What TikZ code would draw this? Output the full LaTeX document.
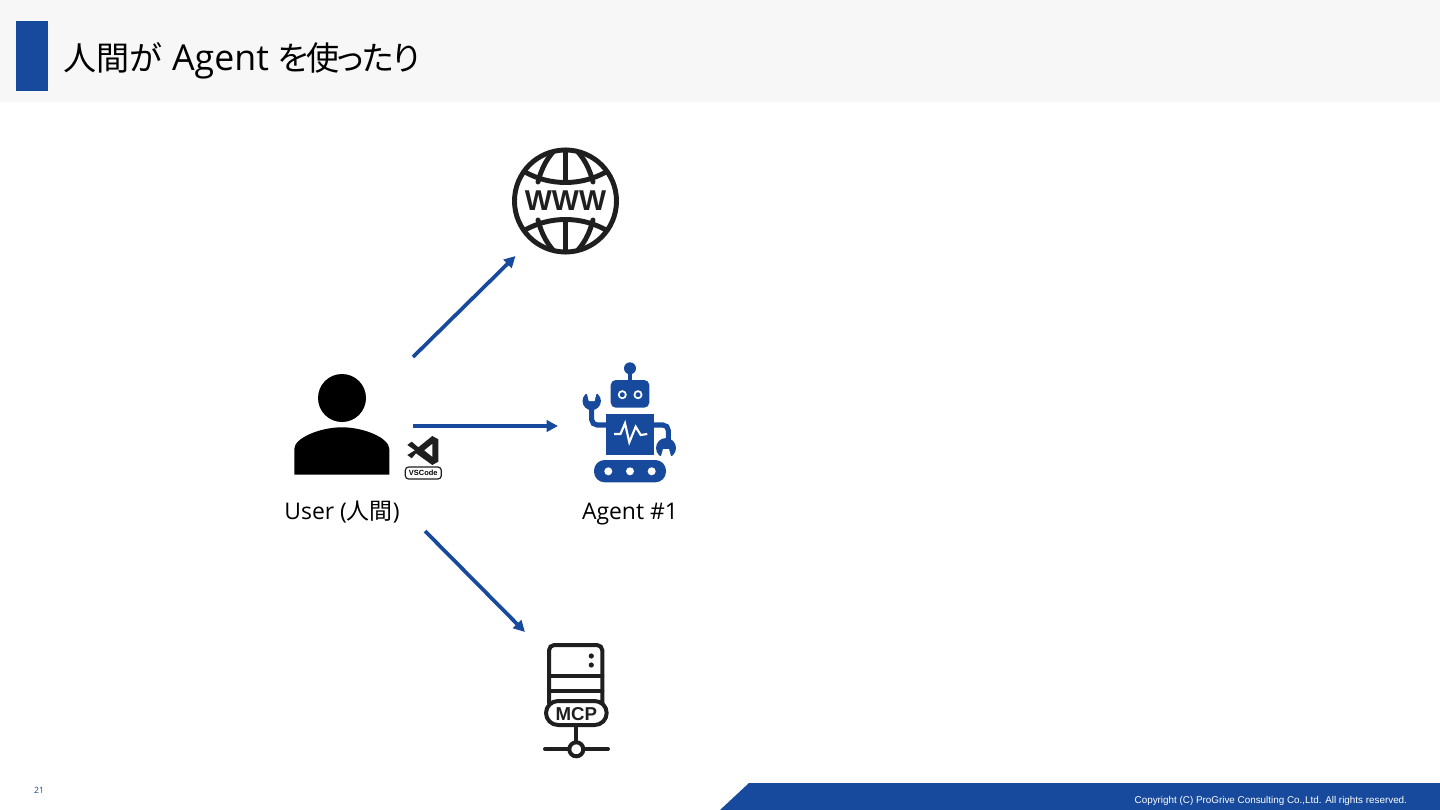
\documentclass[tikz,border=0pt]{standalone}
\usepackage{fontspec}
\setmainfont{Open Sans}
\newfontfamily\cjk[RawFeature=+palt]{Noto Sans CJK JP}
\newfontfamily\arialfont{Liberation Sans}
\usetikzlibrary{arrows.meta, positioning}
\definecolor{pgblue}{HTML}{174A9C}
\definecolor{headgrey}{HTML}{F7F7F7}

\begin{document}
\begin{tikzpicture}[
		x=0.75pt, y=-0.75pt,
		iconbox/.style={rectangle, inner sep=0pt, outer sep=0pt},
		caption/.style={rectangle, inner sep=0pt, outer sep=0pt, minimum width=124.5pt, minimum height=30pt, text height=15pt, text depth=3pt, font=\fontsize{17.2}{20}\selectfont},
		link/.style={-{Triangle[length=8.5pt, width=8.5pt]}, draw=pgblue, line width=2.8pt},
		inkline/.style={draw=black!88, line width=3pt, line cap=round},
		bandfill/.style={fill=pgblue, draw=none}
		]
		\useasboundingbox (0,0) rectangle (1440,810);
		% header and footer
		\fill [headgrey] (0,0) rectangle (1440,102);
		\fill [bandfill] (16,21) rectangle (48,91);
		\node [iconbox, anchor=base west, font=\fontsize{24.8}{30}\selectfont] (title) at (63,70) {{\cjk 人間が}\kern1.5pt{} {\fontsize{26.8}{30}\selectfont Agent} {\cjk\addfontfeature{LetterSpace=-5}を使ったり}};
		\fill [bandfill] (720,810) -- (749,783) -- (1440,783) -- (1440,810) -- cycle;
		\node [iconbox, anchor=east, white, font=\arialfont\fontsize{7.4}{8}\selectfont] (copyright) at (1407,800.5) {Copyright (C) ProGrive Consulting Co.,Ltd. All rights reserved.};
		\node [iconbox, pgblue, font=\fontsize{6.5}{8}\selectfont] (pagenum) at (39,790) {21};

		% invisible boxes, the arrows start and end on them
		\node [iconbox, minimum width=106.5pt, minimum height=103.5pt] (user) at (342,426) {};
		\node [caption] (user caption) [below=-3pt of user] {User ({\cjk 人間})};
		\node [iconbox, minimum width=108pt, minimum height=103.5pt] (agent) at (630,426) {};
		\node [caption] (agent caption) [below=-3pt of agent] {Agent \#1};
		\node [iconbox, minimum width=75pt, minimum height=82.5pt] (web) at (565.5,201) {};
		\node [iconbox, minimum width=76.5pt, minimum height=96pt] (mcp) at (576,696) {};

		\draw [link] (user.north east) -- (web.south west);
		\draw [link] (user.east) -- (agent.west);
		\draw [link] (user caption.south east) -- (mcp.north west);

		% www globe
		\begin{scope}[inkline, line width=3.7pt]
			\draw (565.5,201) circle (51);
			\draw (565.5,150) -- (565.5,181) (565.5,221) -- (565.5,252);
			\draw (525,172) .. controls (550,186) and (581,186) .. (606,172);
			\draw (525,230) .. controls (550,216) and (581,216) .. (606,230);
			\draw (553,152) .. controls (546,160) and (541,170) .. (538,182);
			\draw (578,152) .. controls (585,160) and (590,170) .. (593,182);
			\draw (553,250) .. controls (546,242) and (541,232) .. (538,220);
			\draw (578,250) .. controls (585,242) and (590,232) .. (593,220);
		\end{scope}
		\node [iconbox, text=black!88, font=\arialfont\bfseries\fontsize{21.5}{24}\selectfont] (www) at (565.5,201) {WWW};

		% user
		\fill [black] (342,398) circle (24);
		\fill [black] (294.3,474.7) -- (294.3,449) .. controls (294.3,438) and (320,427.3) .. (342,427.3)
			.. controls (364,427.3) and (389.3,438) .. (389.3,449) -- (389.3,474.7) -- cycle;

		% vscode
		\fill [black!88] (432.3,436) -- (438.3,439.3) -- (438.3,461.7) -- (432.3,465) -- (416,453.3) -- (411.7,458.3)
			-- (407.3,455) -- (415,450.3) -- (407.3,445) -- (411.7,441.7) -- (418.3,447.3) -- cycle;
		\fill [white] (432.3,444) -- (432.3,456.7) -- (424.3,450.3) -- cycle;
		\node [iconbox, draw=black!88, line width=0.9pt, rounded corners=2.5pt, minimum width=27pt, minimum height=9pt, font=\arialfont\bfseries\fontsize{5.6}{6}\selectfont] (vscode) at (423.3,473) {VSCode};

		% robot
		\begin{scope}[pgblue]
			\fill (630,368.3) circle (6);
			\draw [line width=3pt] (630,368.3) -- (630,382);
			\fill [rounded corners=3.8pt] (610.7,380) rectangle (649.3,407.7);
			\fill [white] (622.3,394.7) circle (4.5) (638,394.7) circle (4.5);
			\fill (622.3,394.7) circle (2.5) (638,394.7) circle (2.5);
			\fill (606,414) rectangle (654,455);
			\draw [white, line width=1.6pt] (614,434) -- (620.5,434) -- (625,423.3) -- (629.3,442.3) -- (635.7,426.7) -- (640.7,435) -- (647.3,434);
			% arms
			\draw [line width=3.8pt, rounded corners=4pt] (607,425) -- (591.7,425) -- (591.7,405);
			\draw [line width=3.8pt, rounded corners=4pt] (653,425) -- (668.3,425) -- (668.3,445);
			\fill (591.7,401) circle (9.2);
			\fill [white] (580,390) rectangle (603,394.3);
			\fill [white] (586.8,393) -- (596.6,393) -- (594.6,401) -- (588.8,401) -- cycle;
			\fill (666,448) circle (10);
			\fill [white] (655,456) rectangle (678,460);
			\fill [white] (660.8,457) -- (671.2,457) -- (669,449) -- (663,449) -- cycle;
			% tracks
			\fill [rounded corners=8pt] (594,460) rectangle (666,482.3);
			\fill [white] (608.3,471.3) circle (4) (630,471.3) circle (4) (651.7,471.3) circle (4);
		\end{scope}

		% mcp server
		\begin{scope}[inkline]
			\draw [rounded corners=4pt] (549,703) -- (549,645) -- (602.3,645) -- (602.3,703);
			\draw (549,675.7) -- (602.3,675.7) (549,691) -- (602.3,691);
			\fill [black!88] (591.3,656) circle (2.6) (591.3,665) circle (2.6);
			\draw [fill=white, rounded corners=9pt] (546,701) rectangle (606.7,725);
			\draw (576.3,725) -- (576.3,742);
			\draw (576.3,749.3) circle (7);
			\draw (545,749) -- (569,749) (584,749) -- (608,749);
		\end{scope}
		\node [iconbox, text=black!88, font=\arialfont\bfseries\fontsize{14}{16}\selectfont] (mcp text) at (576.3,714) {MCP};
	\end{tikzpicture}
\end{document}
